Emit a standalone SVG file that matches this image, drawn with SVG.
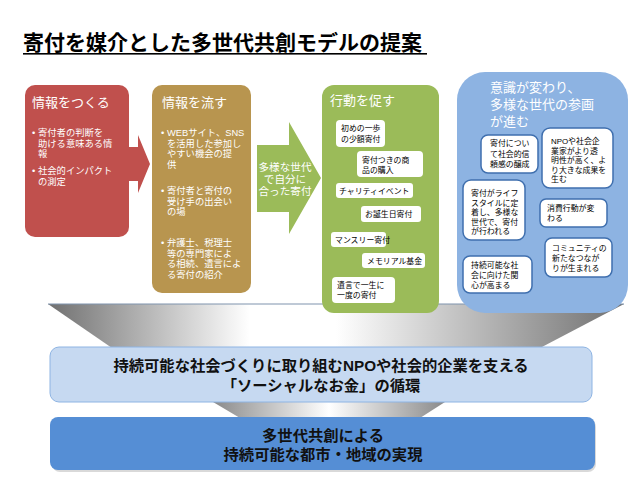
<svg xmlns="http://www.w3.org/2000/svg" width="640" height="480" viewBox="0 0 640 480">
<defs>
<style>
text{font-family:"Liberation Sans","Noto Sans CJK JP","Noto Sans CJK SC",sans-serif;}
.title{font-size:21px;font-weight:bold;fill:#000;}
.h{font-size:13px;fill:#fff;}
.b{font-size:9.3px;fill:#fff;}
.s{font-size:7.9px;fill:#000;}
.w{fill:#fff;}
.bi{fill:#fff;stroke:#3f6fae;stroke-width:1.5;}
.big{font-size:15.3px;font-weight:bold;fill:#111;text-anchor:middle;}
</style>
<linearGradient id="gf" x1="0" y1="0" x2="1" y2="0">
<stop offset="0" stop-color="#707070"/>
<stop offset="0.35" stop-color="#ffffff"/>
<stop offset="0.5" stop-color="#ffffff"/>
<stop offset="1" stop-color="#707070"/>
</linearGradient>
<linearGradient id="gf2" x1="0" y1="0" x2="1" y2="0">
<stop offset="0" stop-color="#8a8a8a"/>
<stop offset="0.5" stop-color="#ffffff"/>
<stop offset="1" stop-color="#8a8a8a"/>
</linearGradient>
</defs>
<rect width="640" height="480" fill="#fff"/>

<g id="title">
<text class="title" x="23" y="50">寄付を媒介とした多世代共創モデルの提案</text>
<rect x="23" y="53" width="404" height="1.6" fill="#000"/>
</g>

<g id="funnel">
<polygon points="48,304 624,304 540,348 112,348" fill="url(#gf)"/>
<line x1="48" y1="304" x2="624" y2="304" stroke="#7f93ad" stroke-width="1"/>
<polygon points="213,402 445,402 420,418 240,418" fill="url(#gf2)"/>
</g>

<g id="connectors">
<polygon points="127,147 138,147 138,135 150,164 138,193 138,181 127,181" fill="#c0504d"/>
<polygon points="257,145 289,145 289,122 321,178 289,234 289,212 257,212" fill="#9bbb59"/>
<text class="w" font-size="10.6" text-anchor="middle" x="285" y="171">多様な世代<tspan x="285" dy="12">で自分に</tspan><tspan x="285" dy="12">合った寄付</tspan></text>
</g>

<g id="node-create">
<rect x="25" y="85" width="104" height="152" rx="10" fill="#c0504d"/>
<text class="h" x="32" y="107">情報をつくる</text>
<text class="b" x="32" y="136">•<tspan x="38">寄付者の判断を</tspan><tspan x="38" dy="10.5">助ける意味ある情</tspan><tspan x="38" dy="10.5">報</tspan></text>
<text class="b" x="32" y="174">•<tspan x="38">社会的インパクト</tspan><tspan x="38" dy="10.5">の測定</tspan></text>
</g>

<g id="node-flow">
<rect x="152" y="85" width="99" height="208" rx="10" fill="#b8954f"/>
<text class="h" x="162" y="107">情報を流す</text>
<text class="b" x="161" y="136">•<tspan x="167">WEBサイト、SNS</tspan><tspan x="167" dy="10.5">を活用した参加し</tspan><tspan x="167" dy="10.5">やすい機会の提</tspan><tspan x="167" dy="10.5">供</tspan></text>
<text class="b" x="161" y="194">•<tspan x="167">寄付者と寄付の</tspan><tspan x="167" dy="10.5">受け手の出会い</tspan><tspan x="167" dy="10.5">の場</tspan></text>
<text class="b" x="161" y="246">•<tspan x="167">弁護士、税理士</tspan><tspan x="167" dy="10.5">等の専門家によ</tspan><tspan x="167" dy="10.5">る相続、遺言によ</tspan><tspan x="167" dy="10.5">る寄付の紹介</tspan></text>
</g>

<g id="node-action">
<rect x="322" y="85" width="117" height="228" rx="12" fill="#9bbb59"/>
<text class="h" x="330" y="105">行動を促す</text>
<rect class="w" x="336" y="120" width="49" height="27" rx="4"/>
<text class="s" x="341" y="131">初めの一歩<tspan x="341" dy="11">の少額寄付</tspan></text>
<rect class="w" x="357" y="151" width="66" height="26" rx="4"/>
<text class="s" x="362" y="163">寄付つきの商<tspan x="362" dy="10">品の購入</tspan></text>
<rect class="w" x="336" y="183" width="77" height="15" rx="3"/>
<text class="s" x="339" y="193.5">チャリティイベント</text>
<rect class="w" x="361" y="206" width="60" height="16" rx="3"/>
<text class="s" x="365" y="217">お誕生日寄付</text>
<rect class="w" x="331" y="232" width="55" height="15" rx="3"/>
<text class="s" x="335" y="242.5">マンスリー寄付</text>
<rect class="w" x="362" y="253" width="63" height="15" rx="3"/>
<text class="s" x="367" y="263.5">メモリアル基金</text>
<rect class="w" x="332" y="277" width="63" height="26" rx="4"/>
<text class="s" x="337" y="288">遺言で一生に<tspan x="337" dy="10">一度の寄付</tspan></text>
</g>

<g id="node-change">
<rect x="457" y="72" width="171" height="241" rx="28" fill="#8db3e2"/>
<text class="h" x="490" y="92">意識が変わり、<tspan x="490" dy="17">多様な世代の参画</tspan><tspan x="490" dy="17">が進む</tspan></text>
<rect class="bi" x="481" y="135" width="57" height="38" rx="7"/>
<text class="s" x="490" y="146">寄付につい<tspan x="490" dy="10.5">て社会的信</tspan><tspan x="490" dy="10.5">頼感の醸成</tspan></text>
<rect class="bi" x="542" y="128" width="71" height="60" rx="8"/>
<text class="s" x="551" y="144">NPOや社会企<tspan x="551" dy="9.5">業家がより透</tspan><tspan x="551" dy="9.5">明性が高く、よ</tspan><tspan x="551" dy="9.5">り大きな成果を</tspan><tspan x="551" dy="9.5">生む</tspan></text>
<rect class="bi" x="463" y="180" width="62" height="60" rx="8"/>
<text class="s" x="471" y="196">寄付がライフ<tspan x="471" dy="9.5">スタイルに定</tspan><tspan x="471" dy="9.5">着し、多様な</tspan><tspan x="471" dy="9.5">世代で、寄付</tspan><tspan x="471" dy="9.5">が行われる</tspan></text>
<rect class="bi" x="540" y="199" width="67" height="28" rx="6"/>
<text class="s" x="547" y="211">消費行動が変<tspan x="547" dy="10">わる</tspan></text>
<rect class="bi" x="545" y="238" width="67" height="39" rx="7"/>
<text class="s" x="552" y="251">コミュニティの<tspan x="552" dy="10">新たなつなが</tspan><tspan x="552" dy="10">りが生まれる</tspan></text>
<rect class="bi" x="463" y="256" width="69" height="37" rx="7"/>
<text class="s" x="471" y="268">持続可能な社<tspan x="471" dy="10">会に向けた関</tspan><tspan x="471" dy="10">心が高まる</tspan></text>
</g>

<g id="node-money">
<rect x="50" y="347" width="542" height="55" rx="9" fill="#c6d9f1" stroke="#8eb4e3" stroke-width="1"/>
<text class="big" x="321" y="371">持続可能な社会づくりに取り組むNPOや社会的企業を支える<tspan x="321" dy="20">「ソーシャルなお金」の循環</tspan></text>
</g>

<g id="node-city">
<rect x="52" y="419" width="544" height="53" rx="8" fill="#a0a0a0" opacity="0.4"/>
<rect x="50" y="417" width="545" height="53" rx="8" fill="#558ed5"/>
<text class="big" x="323" y="441">多世代共創による<tspan x="323" dy="19">持続可能な都市・地域の実現</tspan></text>
</g>
</svg>
